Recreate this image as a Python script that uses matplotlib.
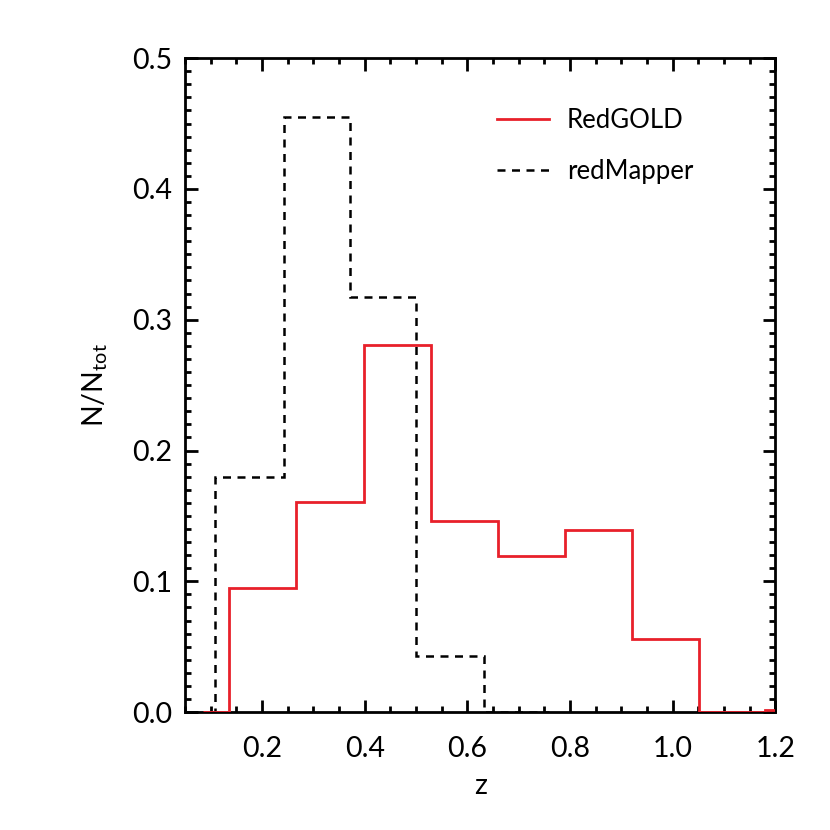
import matplotlib
matplotlib.use("Agg")
import matplotlib.pyplot as plt
from matplotlib.ticker import MultipleLocator

plt.rcParams["font.family"] = ["Lato", "DejaVu Sans"]
plt.rcParams["mathtext.fontset"] = "custom"
plt.rcParams["mathtext.rm"] = "Lato"

# bin edges + normalised counts
redgold_edges = [0.085, 0.136, 0.267, 0.398, 0.529, 0.660, 0.790, 0.921, 1.052, 1.180, 1.25]
redgold_vals = [0.0, 0.095, 0.161, 0.281, 0.146, 0.119, 0.139, 0.056, 0.0, 0.002]

redmapper_edges = [0.10, 0.109, 0.242, 0.371, 0.500, 0.633, 0.76]
redmapper_vals = [0.0, 0.180, 0.455, 0.317, 0.043, 0.0]

fig = plt.figure(figsize=(8.3, 8.3), dpi=100)
ax = fig.add_axes([0.223, 0.142, 0.711, 0.788])

ax.stairs(redgold_vals, redgold_edges, color="#e8202a", lw=2, label="RedGOLD", zorder=3)
ax.stairs(redmapper_vals, redmapper_edges, color="black", lw=1.8,
          linestyle=(0, (3.2, 2.6)), label="redMapper", zorder=2)

ax.set_xlim(0.05, 1.2)
ax.set_ylim(0, 0.5)

ax.xaxis.set_major_locator(MultipleLocator(0.2))
ax.xaxis.set_minor_locator(MultipleLocator(0.05))
ax.yaxis.set_major_locator(MultipleLocator(0.1))
ax.yaxis.set_minor_locator(MultipleLocator(0.01))
ax.xaxis.set_major_formatter(lambda v, p: f"{v:.1f}")
ax.yaxis.set_major_formatter(lambda v, p: f"{v:.1f}")

ax.tick_params(which="both", direction="in", top=True, right=True, width=2, colors="black")
ax.tick_params(which="major", length=9, labelsize=20.5)
ax.tick_params(which="minor", length=4.5)
ax.tick_params(axis="x", pad=17)
ax.tick_params(axis="y", pad=9)
for s in ax.spines.values():
    s.set_linewidth(2)

ax.set_xlabel("z", fontsize=20.5, labelpad=8)
ax.set_ylabel(r"N/N$_{\mathrm{tot}}$", fontsize=20.5, labelpad=16)

ax.legend(loc="upper left", bbox_to_anchor=(0.49, 0.959), frameon=False, fontsize=18.5,
          handlelength=2.0, handletextpad=0.7, labelspacing=1.0)

fig.savefig("out.png", dpi=100)
plt.close(fig)
